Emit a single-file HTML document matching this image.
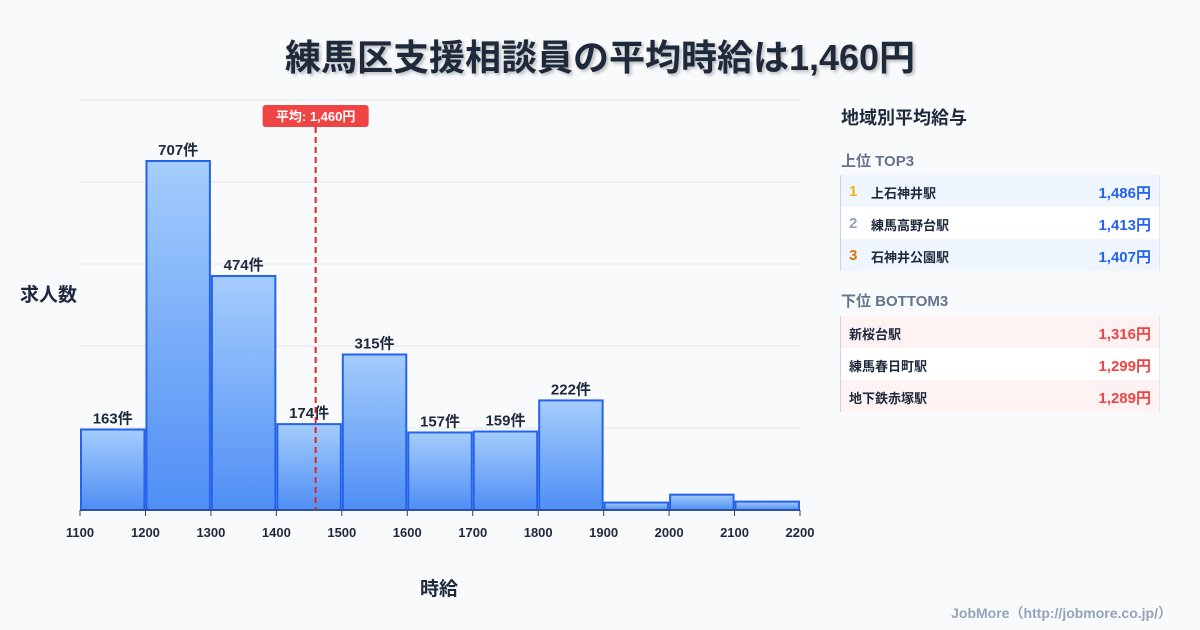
<!DOCTYPE html>
<html><head><meta charset="utf-8"><style>
body{margin:0;width:1200px;height:630px;background:#f8fafc;font-family:"Liberation Sans","Noto Sans CJK JP",sans-serif;position:relative;overflow:hidden;color:#1e293b}
.t{position:absolute}
.row{position:absolute;left:840px;width:320px;height:32px;font-size:13px;font-weight:bold;border-left:1px solid #cbd5e1;border-right:1px solid #e2e8f0;box-sizing:border-box}
.row span{position:absolute;top:8px}
.row span.v{right:8px;font-size:15px;top:7px}
.row span.r{left:8px;font-size:15px;top:8px}
</style></head><body>
<div class="t" style="left:0;width:1200px;top:29px;text-align:center;font-size:36px;font-weight:bold;color:#1e293b;text-shadow:2px 2px 3px rgba(0,0,0,0.25)">練馬区支援相談員の平均時給は1,460円</div>
<svg id="chart" class="t" style="left:0;top:0" width="820" height="630">
<defs><linearGradient id="g" x1="0" y1="0" x2="0" y2="1"><stop offset="0" stop-color="#a5cdfc"/><stop offset="1" stop-color="#4f8ef5"/></linearGradient></defs>
</svg>
<div class="t" style="left:20px;top:280px;font-size:19px;font-weight:bold">求人数</div>
<div class="t" style="left:420px;top:574px;font-size:19px;font-weight:bold">時給</div>
<div class="t" style="left:841px;top:104px;font-size:18px;font-weight:bold">地域別平均給与</div>
<div class="t" style="left:841px;top:150px;font-size:15px;font-weight:bold;color:#64748b">上位 TOP3</div>
<div class="row" style="top:175px;background:#eff6ff"><span class="r" style="color:#eab308">1</span><span style="left:30px">上石神井駅</span><span class="v" style="color:#2563eb">1,486円</span></div>
<div class="row" style="top:207px;background:#fff"><span class="r" style="color:#94a3b8">2</span><span style="left:30px">練馬高野台駅</span><span class="v" style="color:#2563eb">1,413円</span></div>
<div class="row" style="top:239px;background:#eff6ff"><span class="r" style="color:#d97706">3</span><span style="left:30px">石神井公園駅</span><span class="v" style="color:#2563eb">1,407円</span></div>
<div class="t" style="left:841px;top:290px;font-size:15px;font-weight:bold;color:#64748b">下位 BOTTOM3</div>
<div class="row" style="top:316px;background:#fef2f2"><span style="left:8px">新桜台駅</span><span class="v" style="color:#ef4444">1,316円</span></div>
<div class="row" style="top:348px;background:#fff"><span style="left:8px">練馬春日町駅</span><span class="v" style="color:#ef4444">1,299円</span></div>
<div class="row" style="top:380px;background:#fef2f2"><span style="left:8px">地下鉄赤塚駅</span><span class="v" style="color:#ef4444">1,289円</span></div>
<div class="t" style="right:28px;top:603px;font-size:14px;font-weight:bold;color:#94a3b8">JobMore（http://jobmore.co.jp/）</div>
<script>
const binStarts=[1100,1200,1300,1400,1500,1600,1700,1800,1900,2000,2100];
const counts=[163,707,474,174,315,157,159,222,15,31,17];
const showLabel=[true,true,true,true,true,true,true,true,false,false,false];
const xTicks=[1100,1200,1300,1400,1500,1600,1700,1800,1900,2000,2100,2200];
const meanValue=1460;
const meanLabel="平均: 1,460円";
const NS="http://www.w3.org/2000/svg";
const svg=document.getElementById('chart');
const X=v=>80+(v-1100)*720/1100;
const Y=v=>510-v*349/707;
function mk(t,a){const e=document.createElementNS(NS,t);for(const k in a)e.setAttribute(k,a[k]);svg.appendChild(e);return e;}
for(let i=0;i<5;i++){const g=mk('line',{x1:80,x2:800,y1:100+i*82,y2:100+i*82,stroke:'#e2e8f0','stroke-width':1});

}
binStarts.forEach((b,i)=>{
 const x0=X(b)+1,x1=X(b+100)-1,y=Y(counts[i]);
 const r=mk('rect',{x:x0,y:y,width:x1-x0,height:510-y,fill:'url(#g)',stroke:'#2563eb','stroke-width':2});
 
 
 if(showLabel[i]){const t=mk('text',{x:(x0+x1)/2,y:y-6,'text-anchor':'middle','font-size':15,'font-weight':'bold',fill:'#1e293b'});t.textContent=counts[i]+'件';
 
 }
});
const ax=mk('line',{x1:80,x2:800,y1:510,y2:510,stroke:'#334155','stroke-width':1});


xTicks.forEach(v=>{const l=mk('line',{x1:X(v),x2:X(v),y1:510,y2:516,stroke:'#334155'});


const t=mk('text',{x:X(v),y:537,'text-anchor':'middle','font-size':13,'font-weight':'bold',fill:'#1e293b'});t.textContent=v;

});
const mx=X(meanValue);
const ml=mk('line',{x1:mx,x2:mx,y1:127,y2:510,stroke:'#dc2626','stroke-width':2,'stroke-dasharray':'6,4'});


const mb=mk('rect',{x:mx-53,y:105,width:106,height:22,rx:3,fill:'#ef4444'});


const mt=mk('text',{x:mx,y:121,'text-anchor':'middle','font-size':13,'font-weight':'bold',fill:'#fff'});mt.textContent=meanLabel;


</script>
</body></html>
